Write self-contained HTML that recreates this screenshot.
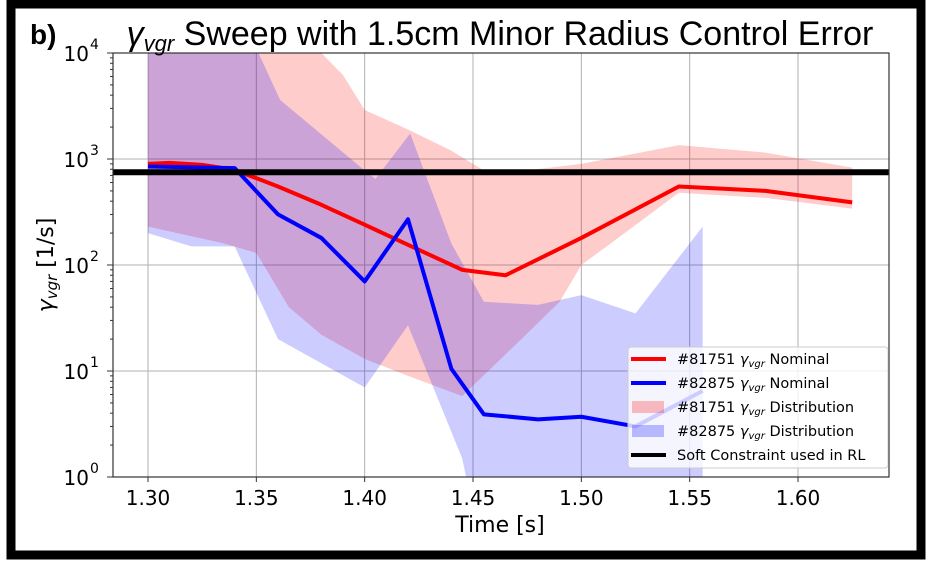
<!DOCTYPE html>
<html><head><meta charset="utf-8">
<style>
html,body{margin:0;padding:0;background:#fff;}
body{width:933px;height:565px;overflow:hidden;font-family:"DejaVu Sans","Liberation Sans",sans-serif;}
</style></head>
<body>
<svg id="s" width="933" height="565" xmlns="http://www.w3.org/2000/svg" font-family="DejaVu Sans, Liberation Sans, sans-serif">
<rect x="0" y="0" width="933" height="565" fill="#fff"/>
<rect x="11" y="4" width="910" height="551" fill="none" stroke="#000" stroke-width="9"/>
<defs><clipPath id="c"><rect x="113" y="53" width="776" height="424"/></clipPath></defs>
<g id="grid" stroke="#b0b0b0" stroke-width="1"></g>
<g clip-path="url(#c)" id="data"></g>
<rect x="113" y="53" width="776" height="424" fill="none" stroke="#333" stroke-width="1.2"/>
<g id="ticks" fill="#000" font-size="20"></g>
<text x="30" y="44" font-size="28" font-weight="bold" font-family="Liberation Sans, sans-serif">b)</text>
<text x="500" y="45" font-size="34" text-anchor="middle" font-family="Liberation Sans, sans-serif"><tspan font-style="italic">γ</tspan><tspan font-style="italic" font-size="22" dy="6">vgr</tspan><tspan dy="-6"> Sweep with 1.5cm Minor Radius Control Error</tspan></text>
<text x="500" y="532" font-size="22" text-anchor="middle">Time [s]</text>
<text transform="translate(53,265) rotate(-90)" font-size="22" text-anchor="middle"><tspan font-style="italic">γ</tspan><tspan font-style="italic" font-size="15" dy="4">vgr</tspan><tspan dy="-4"> [1/s]</tspan></text>
<g id="leg"></g>
</svg>
<script>
var NS="http://www.w3.org/2000/svg";
function X(t){return 148+(t-1.30)*2166.7;}
function Y(v){return 477-Math.log10(v)*106;}
function el(p,tag,a,txt){var e=document.createElementNS(NS,tag);for(var k in a)e.setAttribute(k,a[k]);if(txt!==undefined)e.textContent=txt;p.appendChild(e);return e;}
var g=document.getElementById('grid'),tk=document.getElementById('ticks'),d=document.getElementById('data');
for(var i=0;i<7;i++){var t=1.30+i*0.05,x=X(t);el(g,'line',{x1:x,x2:x,y1:53,y2:477});el(tk,'line',{x1:x,x2:x,y1:477,y2:482,stroke:'#333'});el(tk,'text',{x:x,y:505,'text-anchor':'middle'},t.toFixed(2));}
for(var k=0;k<=4;k++){var y=Y(Math.pow(10,k));if(k>0&&k<4)el(g,'line',{x1:113,x2:889,y1:y,y2:y});el(tk,'line',{x1:107,x2:113,y1:y,y2:y,stroke:'#333'});
el(tk,'text',{x:89,y:y+8,'text-anchor':'end'},'10');el(tk,'text',{x:90,y:y-4,'font-size':14},String(k));
if(k<4)for(var m=2;m<10;m++){var yy=Y(m*Math.pow(10,k));el(tk,'line',{x1:110,x2:113,y1:yy,y2:yy,stroke:'#333'});}}
function band(up,lo,col){var s='';up.forEach(function(p,i){s+=(i?'L':'M')+X(p[0])+','+Y(p[1]);});lo.slice().reverse().forEach(function(p){s+='L'+X(p[0])+','+Y(p[1]);});el(d,'path',{d:s+'Z',fill:col,stroke:'none'});}
function line(pts,col,w){var s='';pts.forEach(function(p,i){s+=(i?'L':'M')+X(p[0])+','+Y(p[1]);});el(d,'path',{d:s,fill:'none',stroke:col,'stroke-width':w,'stroke-linejoin':'round'});}
band([[1.30,30000],[1.38,10000],[1.39,6200],[1.40,2900],[1.42,1900],[1.44,1200],[1.455,780],[1.47,760],[1.50,900],[1.545,1350],[1.585,1150],[1.625,830]],
[[1.30,230],[1.335,160],[1.35,130],[1.365,40],[1.38,22],[1.40,13],[1.42,9],[1.445,5.8],[1.47,18],[1.49,45],[1.50,100],[1.52,200],[1.545,480],[1.585,430],[1.625,340]],'rgba(255,0,0,0.2)');
band([[1.30,30000],[1.351,10000],[1.361,3600],[1.40,780],[1.405,650],[1.421,1740],[1.44,160],[1.455,45],[1.48,42],[1.50,52],[1.525,35],[1.556,230]],
[[1.30,200],[1.32,150],[1.34,150],[1.36,20],[1.40,7],[1.42,27],[1.445,1.5],[1.45,0.5],[1.556,0.5]],'rgba(0,0,255,0.2)');
line([[1.30,900],[1.31,920],[1.325,880],[1.34,790],[1.36,550],[1.38,370],[1.40,240],[1.42,155],[1.445,90],[1.465,80],[1.50,180],[1.545,550],[1.585,500],[1.625,390]],'#ff0000',4);
line([[1.30,850],[1.34,820],[1.36,300],[1.38,180],[1.40,70],[1.42,270],[1.44,10.5],[1.455,3.9],[1.48,3.5],[1.50,3.7],[1.525,3.0],[1.556,6.5]],'#0000ff',4);
var yc=Y(750);el(d,'line',{x1:113,x2:889,y1:yc,y2:yc,stroke:'#000','stroke-width':6});
var L=document.getElementById('leg');
el(L,'rect',{x:628,y:347,width:260,height:121,fill:'rgba(255,255,255,0.8)',stroke:'#ccc',rx:3});
var items=[['l','#ff0000','#81751 ','Nominal'],['l','#0000ff','#82875 ','Nominal'],['f','rgba(255,0,0,0.25)','#81751 ','Distribution'],['f','rgba(0,0,255,0.25)','#82875 ','Distribution'],['l','#000','Soft Constraint used in RL','']];
items.forEach(function(it,i){var y=359+i*24;
if(it[0]=='l')el(L,'line',{x1:631,x2:666,y1:y,y2:y,stroke:it[1],'stroke-width':4});else el(L,'rect',{x:632,y:y-6,width:32,height:12,fill:it[1]});
var t=el(L,'text',{x:677,y:y+5,'font-size':14.5});
if(it[3]){el(t,'tspan',{},it[2]);el(t,'tspan',{'font-style':'italic'},'γ');el(t,'tspan',{'font-style':'italic','font-size':10,dy:3},'vgr');el(t,'tspan',{dy:-3},' '+it[3]);}else t.textContent=it[2];});
</script>
</body></html>
